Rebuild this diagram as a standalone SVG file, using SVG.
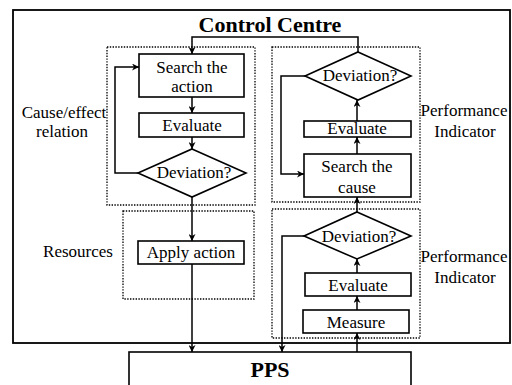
<svg xmlns="http://www.w3.org/2000/svg" width="512" height="385" viewBox="0 0 512 385">
<defs>
<style>
.box{fill:#fff;stroke:#000;stroke-width:1.6}
.grp{fill:none;stroke:#000;stroke-width:1.3;stroke-dasharray:1.4 1.4}
.ln{fill:none;stroke:#000;stroke-width:1.5}
text{font-family:'Liberation Serif','DejaVu Serif',serif;fill:#000;text-anchor:middle}
.t{font-size:17px}
.b{font-size:22px;font-weight:bold}
</style>
<marker id="ah" viewBox="0 0 10 10" refX="10" refY="5" markerWidth="7" markerHeight="7" markerUnits="userSpaceOnUse" orient="auto">
<path d="M0,0 L10,5 L0,10 L3,5 Z" fill="#000"/>
</marker>
</defs>
<rect width="512" height="385" fill="#fff"/>
<g id="control-centre">
<rect x="13" y="10" width="497" height="333" fill="none" stroke="#000" stroke-width="1.8"/>
<text class="b" x="270" y="32">Control Centre</text>
</g>
<g id="group-cause-effect">
<rect class="grp" x="107" y="47" width="148" height="158"/>
<text class="t" x="64" y="118">Cause/effect</text>
<text class="t" x="62" y="137">relation</text>
</g>
<g id="group-resources">
<rect class="grp" x="123" y="211" width="131" height="88"/>
<text class="t" x="78" y="257">Resources</text>
</g>
<g id="group-pi-top">
<rect class="grp" x="272" y="47" width="148" height="155"/>
<text class="t" x="464" y="116">Performance</text>
<text class="t" x="465" y="137">Indicator</text>
</g>
<g id="group-pi-bottom">
<rect class="grp" x="272" y="209" width="148" height="129"/>
<text class="t" x="464" y="262">Performance</text>
<text class="t" x="465" y="283">Indicator</text>
</g>
<g id="search-action">
<rect class="box" x="139" y="54" width="105" height="43"/>
<text class="t" x="192" y="73">Search the</text>
<text class="t" x="192" y="92">action</text>
</g>
<g id="evaluate-left">
<rect class="box" x="139" y="113" width="105" height="24"/>
<text class="t" x="192" y="131">Evaluate</text>
</g>
<g id="deviation-left">
<polygon class="box" points="192,149 246,173 192,197 138,173"/>
<text class="t" x="194" y="178">Deviation?</text>
</g>
<g id="apply-action">
<rect class="box" x="138" y="241" width="106" height="23"/>
<text class="t" x="191" y="258">Apply action</text>
</g>
<g id="deviation-top-right">
<polygon class="box" points="358,52 411,76 358,100 305,76"/>
<text class="t" x="360" y="81">Deviation?</text>
</g>
<g id="evaluate-top-right">
<rect class="box" x="304" y="121" width="107" height="16"/>
<text class="t" x="357" y="134">Evaluate</text>
</g>
<g id="search-cause">
<rect class="box" x="304" y="154" width="107" height="43"/>
<text class="t" x="357" y="172">Search the</text>
<text class="t" x="357" y="193">cause</text>
</g>
<g id="deviation-bottom-right">
<polygon class="box" points="357,212 411,236 357,259 304,236"/>
<text class="t" x="359" y="242">Deviation?</text>
</g>
<g id="evaluate-bottom-right">
<rect class="box" x="305" y="273" width="106" height="23"/>
<text class="t" x="358" y="291">Evaluate</text>
</g>
<g id="measure">
<rect class="box" x="303" y="310" width="106" height="23"/>
<text class="t" x="356" y="328">Measure</text>
</g>
<g id="pps">
<rect class="box" x="129" y="352" width="282" height="40"/>
<text class="b" x="270" y="377">PPS</text>
</g>
<g id="connectors">
<polyline class="ln" points="358,52 358,37 192,37 192,54" marker-end="url(#ah)"/>
<line class="ln" x1="192" y1="97" x2="192" y2="113" marker-end="url(#ah)"/>
<line class="ln" x1="192" y1="137" x2="192" y2="149" marker-end="url(#ah)"/>
<polyline class="ln" points="138,173 115,173 115,67 139,67" marker-end="url(#ah)"/>
<line class="ln" x1="192" y1="197" x2="192" y2="241" marker-end="url(#ah)"/>
<line class="ln" x1="192" y1="264" x2="192" y2="352" marker-end="url(#ah)"/>
<line class="ln" x1="357" y1="154" x2="357" y2="137" marker-end="url(#ah)"/>
<line class="ln" x1="357" y1="121" x2="357" y2="100" marker-end="url(#ah)"/>
<polyline class="ln" points="305,76 281,76 281,174 304,174" marker-end="url(#ah)"/>
<line class="ln" x1="357" y1="212" x2="357" y2="197" marker-end="url(#ah)"/>
<line class="ln" x1="357" y1="273" x2="357" y2="259" marker-end="url(#ah)"/>
<line class="ln" x1="357" y1="310" x2="357" y2="296" marker-end="url(#ah)"/>
<line class="ln" x1="357" y1="352" x2="357" y2="333" marker-end="url(#ah)"/>
<polyline class="ln" points="304,236 282,236 282,352" marker-end="url(#ah)"/>
</g>
</svg>
